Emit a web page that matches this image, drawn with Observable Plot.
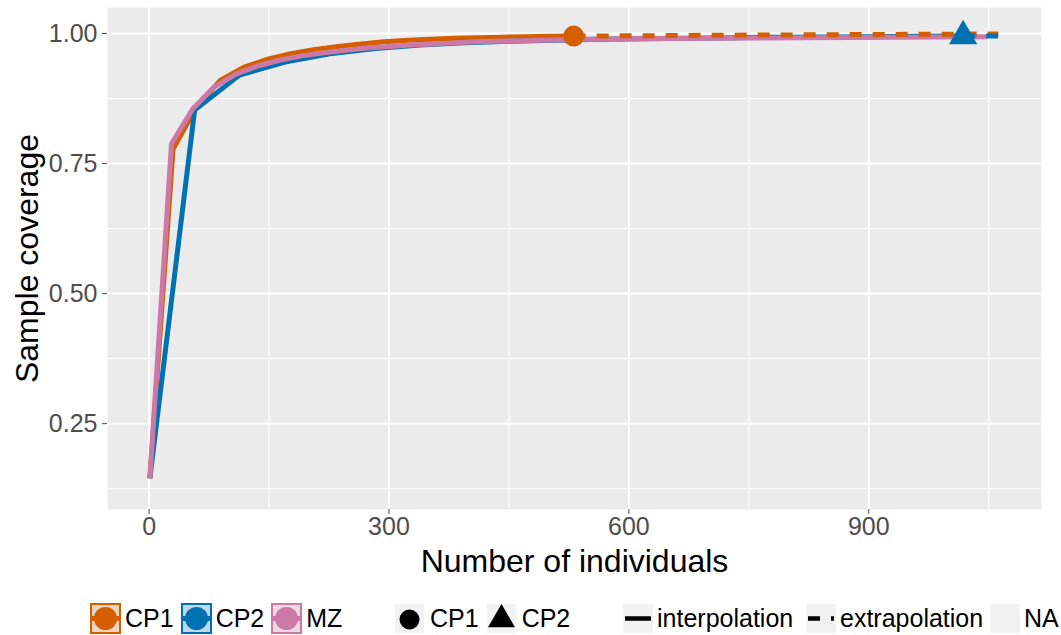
<!DOCTYPE html>
<html>
<head>
<meta charset="utf-8">
<script src="https://cdn.jsdelivr.net/npm/d3@7"></script>
<script src="https://cdn.jsdelivr.net/npm/@observablehq/plot@0.6"></script>
<style>
  html, body { margin: 0; padding: 0; background: #fff; width: 1061px; height: 635px; overflow: hidden; }
  body { font-family: "Liberation Sans", Arial, Helvetica, sans-serif; }
  #legend { position: relative; width: 1061px; height: 45px; overflow: hidden; font-size: 25px; color: #000; }
  .grp { position: absolute; top: 6px; height: 45px; display: flex; align-items: center; white-space: nowrap; }
  .grp svg { display: block; flex: none; }
  .lbl { margin-left: 4px; margin-right: 9px; }
</style>
</head>
<body>
<div id="chart"></div>
<div id="legend"></div>
<script>
// ---------- data ----------
const sites = ["CP1", "CP2", "MZ"];
const siteColors = ["#D55E00", "#0072B2", "#CC79A7"];
const siteTints = ["#ecd4c2", "#c2d8e5", "#ebdae3"];

const cp1InterpN   = [1, 30, 59, 89, 118, 147, 177, 206, 236, 265, 294, 324, 353, 383, 412, 441, 471, 500, 530, 531];
const cp1InterpCov = [0.145, 0.778, 0.858, 0.910, 0.935, 0.950, 0.961, 0.969, 0.975, 0.980, 0.984, 0.987, 0.989, 0.991, 0.992, 0.993, 0.994, 0.9945, 0.995, 0.995];
const cp1ExtrapN   = [531, 587, 643, 699, 755, 810, 866, 922, 978, 1034, 1062];
const cp1ExtrapCov = [0.995, 0.9955, 0.996, 0.9965, 0.997, 0.9974, 0.9978, 0.9982, 0.9986, 0.9989, 0.999];

const cp2InterpN   = [1, 57, 113, 170, 226, 283, 339, 395, 452, 508, 565, 621, 678, 734, 790, 847, 903, 960, 1017, 1018];
const cp2InterpCov = [0.145, 0.853, 0.920, 0.945, 0.961, 0.971, 0.978, 0.982, 0.985, 0.987, 0.989, 0.990, 0.991, 0.992, 0.993, 0.9935, 0.994, 0.9945, 0.995, 0.995];
const cp2ExtrapN   = [1018, 1040, 1062];
const cp2ExtrapCov = [0.995, 0.9952, 0.9954];

const mzInterpN   = [1, 28, 55, 82, 110, 137, 164, 191, 219, 246, 273, 300, 328, 355, 382, 409, 436, 464, 491, 518, 545, 600, 655, 710, 765, 820, 875, 930, 985, 1048];
const mzInterpCov = [0.145, 0.788, 0.856, 0.898, 0.923, 0.938, 0.949, 0.957, 0.963, 0.968, 0.972, 0.975, 0.978, 0.980, 0.982, 0.984, 0.985, 0.986, 0.987, 0.988, 0.989, 0.990, 0.9905, 0.991, 0.9915, 0.992, 0.9925, 0.993, 0.9935, 0.994];

const observedSites = ["CP1", "CP2"];
const observedN     = [531, 1018];
const observedCov   = [0.995, 0.995];
const observedShapes = ["circle", "triangle"];

const xTicks = [0, 300, 600, 900];
const xMinor = [150, 450, 750, 1050];
const yTicks = [0.25, 0.50, 0.75, 1.00];
const yMinor = [0.125, 0.375, 0.625, 0.875];
const methods = ["interpolation", "extrapolation", "NA"];

// ---------- build tables ----------
function rows(site, ns, covs, method) {
  return ns.map((n, i) => ({site, n, cov: covs[i], method}));
}
const interp = [
  ...rows("CP1", cp1InterpN, cp1InterpCov, "interpolation"),
  ...rows("CP2", cp2InterpN, cp2InterpCov, "interpolation"),
  ...rows("MZ", mzInterpN, mzInterpCov, "interpolation")
];
const extrap = [
  ...rows("CP1", cp1ExtrapN, cp1ExtrapCov, "extrapolation"),
  ...rows("CP2", cp2ExtrapN, cp2ExtrapCov, "extrapolation")
];
const observed = observedSites.map((s, i) => ({site: s, n: observedN[i], cov: observedCov[i]}));

const chart = Plot.plot({
  width: 1061,
  height: 590,
  marginLeft: 107,
  marginRight: 20,
  marginTop: 7,
  marginBottom: 81,
  style: {fontFamily: '"Liberation Sans", Arial, Helvetica, sans-serif', background: "#fff"},
  x: {domain: [-52, 1116]},
  y: {domain: [0.085, 1.05]},
  color: {domain: sites, range: siteColors},
  symbol: {domain: observedSites, range: observedShapes},
  marks: [
    Plot.frame({fill: "#EBEBEB", stroke: null}),
    Plot.gridX(xMinor, {stroke: "#fff", strokeOpacity: 1, strokeWidth: 1}),
    Plot.gridY(yMinor, {stroke: "#fff", strokeOpacity: 1, strokeWidth: 1}),
    Plot.gridX(xTicks, {stroke: "#fff", strokeOpacity: 1, strokeWidth: 2}),
    Plot.gridY(yTicks, {stroke: "#fff", strokeOpacity: 1, strokeWidth: 2}),
    Plot.axisX({ticks: xTicks, tickSize: 5, tickPadding: 3, fontSize: 25, color: "#4d4d4d", label: null}),
    Plot.axisY({ticks: yTicks, tickSize: 5, tickPadding: 5, fontSize: 25, color: "#4d4d4d", tickFormat: d3.format(".2f"), label: null}),
    Plot.text(["Sample coverage"], {frameAnchor: "left", textAnchor: "middle", dx: -80, rotate: -90, fontSize: 32, fill: "#000"}),
    Plot.text(["Number of individuals"], {frameAnchor: "bottom", textAnchor: "middle", dy: 62, fontSize: 32, fill: "#000"}),
    Plot.line(interp, {x: "n", y: "cov", z: "site", stroke: "site", strokeWidth: 5, strokeLinejoin: "miter", strokeLinecap: "butt"}),
    Plot.line(extrap, {x: "n", y: "cov", z: "site", stroke: "site", strokeWidth: 5, strokeDasharray: "12,11", strokeLinecap: "butt"}),
    Plot.dot(observed, {x: "n", y: "cov", fill: "site", symbol: "site", r: 10.5, stroke: null})
  ]
});
document.getElementById("chart").appendChild(chart);

// ---------- legend ----------
const legend = document.getElementById("legend");
const NS = "http://www.w3.org/2000/svg";
function svgEl(tag, attrs) {
  const e = document.createElementNS(NS, tag);
  for (const k in attrs) e.setAttribute(k, attrs[k]);
  return e;
}
function group(left) {
  const g = document.createElement("div");
  g.className = "grp";
  g.style.left = left + "px";
  legend.appendChild(g);
  return g;
}
function label(g, text, ml, mr) {
  const s = document.createElement("span");
  s.className = "lbl";
  s.textContent = text;
  if (ml != null) s.style.marginLeft = ml + "px";
  if (mr != null) s.style.marginRight = mr + "px";
  g.appendChild(s);
}
// colour keys
const g1 = group(90);
sites.forEach((s, i) => {
  const k = svgEl("svg", {width: 31, height: 31});
  k.appendChild(svgEl("rect", {x: 1, y: 1, width: 29, height: 29, fill: siteTints[i], stroke: siteColors[i], "stroke-width": 2}));
  k.appendChild(svgEl("line", {x1: 2, x2: 29, y1: 15.5, y2: 15.5, stroke: siteColors[i], "stroke-width": 5}));
  k.appendChild(svgEl("circle", {cx: 15.5, cy: 15.5, r: 11.5, fill: siteColors[i]}));
  g1.appendChild(k);
  label(g1, s, 4, 7);
});
// shape keys
const g2 = group(395);
observedSites.forEach((s, i) => {
  const k = svgEl("svg", {width: 29, height: 29});
  k.appendChild(svgEl("rect", {x: 0, y: 0, width: 29, height: 29, fill: "#f2f2f2"}));
  const sym = d3.symbol(observedShapes[i] === "circle" ? d3.symbolCircle : d3.symbolTriangle, Math.PI * 10 * 10)();
  k.appendChild(svgEl("path", {d: sym, transform: "translate(14.5,15.5)", fill: "#000"}));
  g2.appendChild(k);
  label(g2, s, 6, 8);
});
// linetype keys, each placed individually
const ltLefts = [623, 806, 990];
methods.forEach((m, i) => {
  const g = group(ltLefts[i]);
  const k = svgEl("svg", {width: 30, height: 29});
  k.appendChild(svgEl("rect", {x: 0, y: 0, width: 30, height: 29, fill: "#f2f2f2"}));
  if (m === "interpolation") {
    k.appendChild(svgEl("line", {x1: 2, x2: 28, y1: 14.5, y2: 14.5, stroke: "#000", "stroke-width": 4.5}));
  } else if (m === "extrapolation") {
    k.appendChild(svgEl("line", {x1: 2, x2: 28, y1: 14.5, y2: 14.5, stroke: "#000", "stroke-width": 4.5, "stroke-dasharray": "12,11"}));
  }
  g.appendChild(k);
  label(g, m, 4, 0);
});
</script>
</body>
</html>
